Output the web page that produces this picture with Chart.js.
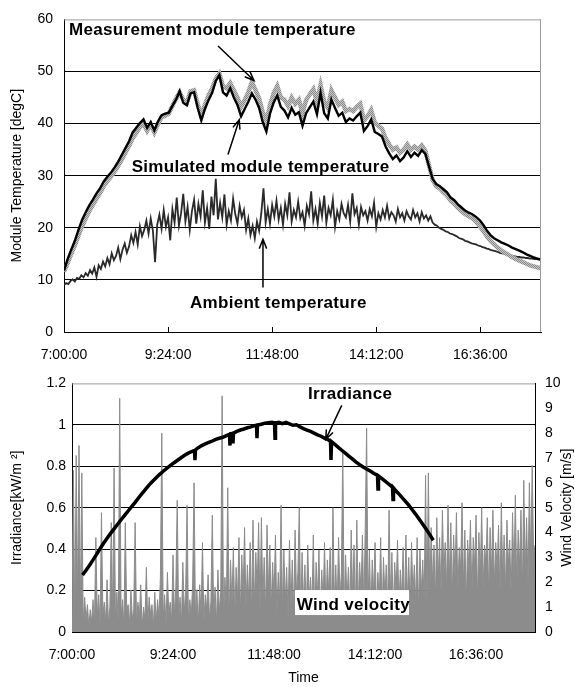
<!DOCTYPE html>
<html>
<head>
<meta charset="utf-8">
<script src="https://cdn.jsdelivr.net/npm/chart.js@4.4.1/dist/chart.umd.min.js"></script>
<style>
  html, body { margin: 0; padding: 0; background: #fff; }
  #wrap { position: relative; width: 575px; height: 687px; }
  canvas { position: absolute; left: 0; }
</style>
</head>
<body>
<div id="wrap">
  <canvas id="tempChart" width="575" height="365" style="top:0"></canvas>
  <canvas id="solarChart" width="575" height="322" style="top:365px"></canvas>
</div>
<script>
// time axis in minutes after midnight
const timeTicks = [420, 564, 708, 852, 996];
const timeTickLabels = ['7:00:00', '9:24:00', '11:48:00', '14:12:00', '16:36:00'];

// module temperatures, every 5 min from 7:00
const tempStart = 420, tempStep = 5;
const simTemp = [
  11.8, 14.0, 15.8, 17.5, 19.6, 21.5, 23.0, 24.3, 25.4, 26.6, 27.6, 28.9,
  29.8, 30.6, 31.6, 32.7, 34.0, 35.3, 36.6, 38.3, 39.2, 40.1, 40.8, 39.2,
  40.3, 38.7, 40.4, 41.6, 41.9, 42.1, 43.4, 44.6, 46.2, 44.0, 43.5, 45.8,
  46.0, 43.0, 40.6, 42.8, 44.5, 45.9, 48.2, 49.3, 46.0, 45.4, 46.8, 45.0,
  43.6, 41.4, 42.8, 44.2, 45.8, 44.6, 43.0, 40.3, 38.5, 41.9, 44.0, 45.4,
  43.2, 42.5, 41.2, 43.0, 41.7, 42.2, 39.6, 42.0, 43.1, 44.2, 41.8, 45.9,
  42.0, 41.0, 44.6, 43.0, 41.5, 42.1, 40.3, 41.0, 40.6, 41.4, 42.1, 38.6,
  39.5, 40.8, 38.4, 38.0, 37.5, 35.6, 34.3, 33.2, 33.9, 32.8, 33.5, 34.7,
  33.6, 34.4, 33.8, 34.9, 34.2, 31.8, 29.4, 28.4, 28.0, 27.4, 26.8, 25.8,
  25.3, 24.5, 23.9, 23.3, 22.9, 22.6, 22.1, 21.5, 20.6, 19.5, 18.6, 18.0,
  17.6, 17.2, 16.9, 16.6, 16.2, 15.9, 15.6, 15.3, 14.9, 14.6, 14.3, 14.1,
  13.9
];
const measTemp = [
  11.6, 13.2, 15.0, 16.6, 18.5, 20.3, 21.8, 23.2, 24.4, 25.6, 26.7, 28.0,
  29.0, 29.8, 30.8, 31.9, 33.1, 34.4, 35.7, 37.2, 38.2, 39.3, 40.0, 38.6,
  39.8, 38.3, 39.9, 41.2, 41.5, 41.9, 43.4, 44.8, 46.0, 44.6, 44.0, 46.2,
  46.4, 43.8, 41.5, 43.6, 45.4, 46.8, 48.6, 49.6, 47.2, 46.8, 47.8, 46.4,
  45.0, 43.2, 44.5, 46.0, 48.0, 46.4, 44.8, 42.2, 40.4, 43.5, 45.8, 47.2,
  45.0, 44.6, 43.4, 45.0, 43.8, 44.6, 42.0, 44.5, 45.6, 46.6, 44.2, 47.4,
  44.2, 43.0, 46.4, 45.0, 43.6, 44.2, 42.4, 42.8, 42.4, 43.2, 43.8, 40.6,
  41.4, 42.6, 40.2, 39.6, 39.0, 37.2, 36.0, 35.0, 35.4, 34.4, 35.0, 36.0,
  35.0, 35.6, 35.0, 35.8, 34.8, 32.0, 29.2, 28.0, 27.5, 26.8, 26.2, 25.2,
  24.6, 23.8, 23.2, 22.6, 22.2, 21.8, 21.2, 20.4, 19.4, 18.4, 17.5, 16.8,
  16.2, 15.7, 15.2, 14.8, 14.4, 14.0, 13.7, 13.4, 13.1, 12.8, 12.6, 12.4,
  12.2
];

// ambient temperature, every 3 min from 7:00
const ambStart = 420, ambStep = 3;
const ambTemp = [
  9.0, 9.4, 9.2, 9.8, 10.1, 9.7, 10.4, 10.2, 10.9, 10.5,
  11.3, 10.8, 11.9, 11.2, 12.4, 10.6, 12.8, 12.1, 13.5, 12.6,
  14.2, 13.0, 15.1, 13.8, 14.6, 16.2, 14.0, 15.8, 17.0, 15.2,
  16.4, 18.6, 17.1, 19.2, 16.8, 20.3, 18.4, 19.6, 21.4, 18.9,
  21.8, 19.4, 13.4, 20.6, 22.5, 19.8, 23.4, 20.2, 22.0, 17.6,
  23.6, 21.0, 25.8, 20.4, 22.8, 26.5, 21.2, 24.0, 19.6, 23.2,
  25.4, 20.8, 24.6, 22.2, 27.2, 21.0, 23.8, 19.8, 26.0, 22.4,
  29.4, 21.6, 24.8, 22.0, 26.4, 20.6, 23.2, 21.4, 25.6, 22.6,
  20.8, 24.2, 22.0, 23.4, 19.6, 21.8, 18.6, 20.4, 18.0, 21.2,
  19.4, 22.8, 27.6, 21.0, 23.6, 20.8, 24.4, 22.2, 25.2, 21.6,
  23.8, 20.6, 24.6, 22.4, 26.8, 21.2, 23.4, 22.0, 25.0, 21.8,
  23.0, 20.4, 24.2, 22.6, 27.0, 21.4, 23.6, 20.8, 24.8, 22.2,
  26.2, 21.0, 23.8, 22.4, 25.4, 20.2, 23.2, 21.6, 24.6, 22.8,
  22.0, 24.4, 21.2, 26.6, 22.6, 23.8, 20.6, 24.0, 22.4, 23.2,
  21.4, 23.6, 22.2, 24.8, 20.2, 22.8, 21.6, 23.4, 22.0, 24.2,
  21.8, 23.0, 22.4, 21.2, 23.6, 22.0, 22.8, 21.4, 23.2, 22.2,
  21.6, 23.4, 22.0, 22.8, 21.2, 23.0, 21.8, 22.4, 21.4, 22.2,
  21.0, 20.6, 20.4, 20.0, 19.8, 19.6, 19.3, 19.2, 18.9, 18.8,
  18.6, 18.4, 18.1, 17.9, 17.8, 17.5, 17.4, 17.2, 17.0, 16.9,
  16.8, 16.6, 16.5, 16.3, 16.2, 16.0, 15.9, 15.7, 15.6, 15.5,
  15.4, 15.2, 15.1, 15.0, 14.9, 14.8, 14.7, 14.6, 14.5, 14.4,
  14.4, 14.3, 14.3, 14.2, 14.2, 14.1, 14.1, 14.0, 14.0, 13.9,
  13.9
];

// irradiance [kW/m2]; sample times in minutes (short dips are sampled closely)
const irrTime = [
  435, 440, 445, 450, 455, 460, 465, 470, 475, 480, 485, 490, 495, 500, 505,
  510, 515, 520, 525, 530, 535, 540, 545, 550, 555, 560, 565, 570, 575, 580,
  585, 590, 594.6, 595.3, 596, 600, 605, 610, 615, 620, 625, 630, 635, 640,
  644.5, 645.2, 645.9, 649, 649.5, 650.2, 655, 660, 665, 670, 675, 680,
  683, 683.7, 684.4, 690, 695, 700, 705, 708.7, 709.4, 710.1, 715, 720, 725,
  730, 735, 740, 745, 750, 755, 760, 765, 770, 775, 780, 785, 788.5, 789.2,
  789.9, 795, 800, 805, 810, 815, 820, 825, 830, 835, 840, 845, 850,
  855.5, 856.2, 856.9, 860, 865, 870, 875, 876.9, 877.6, 878.3, 880, 885,
  890, 895, 900, 905, 910, 915, 920, 925, 930, 935
];
const irradiance = [
  0.275, 0.298, 0.322, 0.348, 0.375, 0.402, 0.428, 0.452, 0.476, 0.498, 0.52, 0.542, 0.563, 0.584, 0.605,
  0.626, 0.648, 0.669, 0.69, 0.71, 0.728, 0.745, 0.761, 0.776, 0.79, 0.803, 0.816, 0.828, 0.84, 0.852,
  0.862, 0.87, 0.877, 0.83, 0.879, 0.89, 0.9, 0.908, 0.915, 0.922, 0.93, 0.935, 0.94, 0.948,
  0.954, 0.90, 0.955, 0.959, 0.91, 0.96, 0.968, 0.975, 0.98, 0.986, 0.99, 0.996,
  0.998, 0.935, 0.999, 1.003, 1.008, 1.01, 1.012, 1.009, 0.935, 1.009, 1.012, 1.006, 1.012,
  1.005, 0.998, 1.0, 0.99, 0.982, 0.975, 0.968, 0.96, 0.952, 0.945, 0.936, 0.928, 0.921, 0.83,
  0.919, 0.905, 0.89, 0.876, 0.862, 0.848, 0.834, 0.82, 0.808, 0.797, 0.787, 0.777, 0.766,
  0.755, 0.69, 0.753, 0.745, 0.732, 0.718, 0.704, 0.699, 0.64, 0.695, 0.688, 0.67,
  0.651, 0.632, 0.612, 0.59, 0.568, 0.544, 0.52, 0.496, 0.47, 0.443
];

// wind velocity [m/s], every 2 min from 7:00
const windStart = 420, windStep = 2;
const windVel = [
  0.6, 6.5, 0.4, 7.1, 1.2, 7.5, 0.8, 6.4, 0.3, 1.4, 0.5, 1.1, 0.2, 0.9, 0.4,
  1.3, 0.3, 3.8, 0.6, 1.5, 0.2, 4.8, 0.7, 1.2, 0.4, 2.1, 0.3, 1.0, 4.4, 0.5,
  6.6, 0.4, 1.6, 0.3, 9.4, 0.6, 1.3, 0.2, 4.4, 0.8, 1.1, 0.3, 1.7, 0.5, 0.9,
  4.4, 0.3, 1.2, 0.6, 1.9, 0.2, 1.0, 0.5, 2.6, 0.3, 1.4, 0.7, 1.1, 0.2, 1.6,
  0.4, 1.3, 0.6, 2.2, 8.0, 0.5, 1.5, 0.3, 2.4, 0.7, 1.2, 0.4, 3.1, 0.6, 1.8,
  5.3, 0.5, 1.4, 0.3, 2.8, 0.8, 1.6, 5.1, 0.4, 1.3, 0.6, 2.0, 6.0, 0.5, 1.7,
  0.3, 1.9, 0.7, 3.6, 0.4, 1.5, 0.9, 2.3, 0.5, 1.2, 4.7, 0.6, 1.8, 0.3, 2.5,
  0.8, 1.6, 9.5, 0.5, 2.2, 0.9, 5.8, 0.4, 2.9, 1.1, 3.4, 0.6, 2.6, 1.3, 3.8,
  0.7, 3.1, 1.5, 4.2, 0.9, 2.7, 1.2, 3.6, 0.6, 4.5, 1.0, 3.2, 1.7, 4.4, 0.8,
  4.6, 1.3, 3.0, 0.7, 4.3, 1.6, 3.5, 0.9, 2.8, 1.4, 3.9, 0.6, 2.4, 1.1, 5.1,
  0.8, 3.3, 1.2, 2.6, 0.5, 3.7, 1.0, 2.9, 0.7, 4.1, 1.5, 2.4, 5.0, 0.6, 3.2,
  1.1, 2.7, 0.6, 3.5, 1.3, 2.2, 0.9, 3.9, 0.5, 2.8, 1.4, 3.3, 0.7, 2.5, 1.2,
  3.6, 0.8, 2.9, 1.5, 3.4, 0.6, 5.0, 1.1, 2.7, 0.9, 3.8, 1.3, 2.4, 7.3, 0.7,
  3.1, 1.2, 2.6, 0.8, 4.1, 1.4, 3.5, 0.6, 4.5, 1.0, 2.8, 1.6, 3.9, 0.9, 4.2,
  8.2, 1.1, 3.3, 0.7, 2.9, 1.5, 3.6, 0.8, 2.4, 1.2, 3.8, 0.6, 3.0, 1.4, 2.7,
  0.9, 4.9, 1.3, 3.2, 0.7, 2.8, 1.6, 3.7, 1.0, 2.5, 1.4, 3.4, 0.8, 3.9, 1.2,
  3.0, 0.9, 3.6, 1.5, 2.7, 1.1, 3.8, 0.8, 3.3, 1.6, 2.9, 1.2, 6.3, 0.9, 6.4,
  1.5, 4.2, 1.9, 3.5, 1.2, 4.6, 2.1, 3.8, 1.4, 4.9, 2.3, 3.6, 1.7, 5.1, 2.0,
  4.4, 1.3, 3.9, 2.2, 4.8, 1.6, 3.4, 2.5, 5.2, 1.8, 4.1, 1.1, 3.7, 2.4, 4.5,
  1.5, 3.8, 2.6, 4.7, 1.2, 4.0, 2.2, 5.0, 1.7, 3.5, 2.8, 4.6, 1.4, 4.2, 2.3,
  4.9, 1.8, 3.6, 2.5, 4.3, 1.3, 5.2, 2.1, 3.9, 1.6, 4.5, 2.7, 3.7, 1.4, 4.8,
  2.2, 5.5, 1.7, 4.1, 2.6, 4.9, 1.5, 6.1, 2.4, 4.6, 1.9, 6.0, 2.8, 6.7, 3.1,
  3.5
];

// annotation text and arrows, in data units of each chart
const topNotes = [
  { text: 'Measurement module temperature', x: 427, y: 57.0 },
  { text: 'Simulated module temperature', x: 513.6, y: 30.66 },
  { text: 'Ambient temperature', x: 594.3, y: 4.54 }
];
const topArrows = [
  [633.1, 54.9, 682.9, 48.27],
  [646.9, 34.07, 662.5, 40.75],
  [695.3, 8.52, 695.3, 17.79]
];
const botNotes = [
  { text: 'Irradiance', x: 756.4, y: 1.126 },
  { text: 'Wind velocity', x: 740.3, y: 0.106, box: [737.9, 900.4, 0.2024, 0.0819] }
];
const botArrows = [
  [804.5, 1.094, 781.7, 0.930]
];

function toXY(vals, t0, dt) {
  return vals.map((v, i) => ({ x: t0 + i * dt, y: v }));
}

function drawArrow(ctx, x1, y1, x2, y2) {
  const a = Math.atan2(y2 - y1, x2 - x1), h = 10, w = 0.38;
  ctx.beginPath();
  ctx.moveTo(x1, y1);
  ctx.lineTo(x2, y2);
  ctx.moveTo(x2 - h * Math.cos(a - w), y2 - h * Math.sin(a - w));
  ctx.lineTo(x2, y2);
  ctx.lineTo(x2 - h * Math.cos(a + w), y2 - h * Math.sin(a + w));
  ctx.stroke();
}

function decorPlugin(notes, arrows, yId, rightTitle) {
  return {
    id: 'decor',
    afterDraw(chart) {
      const ctx = chart.ctx, a = chart.chartArea;
      const sx = chart.scales.x, sy = chart.scales[yId];
      ctx.save();
      // grey frame on top (and right for the top chart)
      ctx.strokeStyle = '#999';
      ctx.lineWidth = 1;
      ctx.beginPath();
      ctx.moveTo(a.left, a.top + 0.5);
      ctx.lineTo(a.right, a.top + 0.5);
      if (!rightTitle) {
        ctx.moveTo(a.right - 0.5, a.top);
        ctx.lineTo(a.right - 0.5, a.bottom);
      }
      ctx.stroke();
      // small inside tick marks on the time axis of the top chart
      if (!rightTitle) {
        ctx.strokeStyle = '#000';
        ctx.beginPath();
        timeTicks.slice(1).forEach(t => {
          const px = Math.round(sx.getPixelForValue(t)) + 0.5;
          ctx.moveTo(px, a.bottom);
          ctx.lineTo(px, a.bottom - 5);
        });
        ctx.stroke();
      }
      ctx.font = 'bold 17px "Liberation Sans", Arial, sans-serif';
      ctx.letterSpacing = '0.3px';
      ctx.textAlign = 'left';
      ctx.textBaseline = 'alphabetic';
      notes.forEach(n => {
        if (n.box) {
          const x1 = sx.getPixelForValue(n.box[0]), x2 = sx.getPixelForValue(n.box[1]);
          const y1 = sy.getPixelForValue(n.box[2]), y2 = sy.getPixelForValue(n.box[3]);
          ctx.fillStyle = '#fff';
          ctx.fillRect(x1, y1, x2 - x1, y2 - y1);
        }
        ctx.fillStyle = '#000';
        ctx.fillText(n.text, sx.getPixelForValue(n.x), sy.getPixelForValue(n.y));
      });
      ctx.letterSpacing = '0px';
      ctx.strokeStyle = '#000';
      ctx.lineWidth = 1.5;
      arrows.forEach(r => drawArrow(ctx,
        sx.getPixelForValue(r[0]), sy.getPixelForValue(r[1]),
        sx.getPixelForValue(r[2]), sy.getPixelForValue(r[3])));
      if (rightTitle) {
        ctx.font = '14px "Liberation Sans", Arial, sans-serif';
        ctx.textAlign = 'center';
        ctx.textBaseline = 'middle';
        ctx.translate(567, (a.top + a.bottom) / 2);
        ctx.rotate(-Math.PI / 2);
        ctx.fillText(rightTitle, 0, 0);
      }
      ctx.restore();
    }
  };
}

Chart.defaults.font.family = '"Liberation Sans", Arial, sans-serif';
Chart.defaults.font.size = 14;
Chart.defaults.color = '#000';

function timeAxis(height, padding) {
  return {
    type: 'linear', min: 420, max: 1080,
    afterBuildTicks: s => { s.ticks = timeTicks.map(v => ({ value: v })); },
    afterFit: s => { s.height = height; },
    grid: { display: false, drawTicks: false },
    border: { color: '#000' },
    ticks: {
      padding: padding, maxRotation: 0, autoSkip: false,
      callback: v => timeTickLabels[timeTicks.indexOf(v)]
    }
  };
}

// stippled grey for the measured module temperature
const pc = document.createElement('canvas');
pc.width = 2; pc.height = 2;
const pctx = pc.getContext('2d');
pctx.fillStyle = '#c6c6c6'; pctx.fillRect(0, 0, 2, 2);
pctx.fillStyle = '#8a8a8a'; pctx.fillRect(0, 0, 1, 1); pctx.fillRect(1, 1, 1, 1);
const stipple = pctx.createPattern(pc, 'repeat');

new Chart(document.getElementById('tempChart'), {
  type: 'line',
  data: {
    datasets: [
      { label: 'Simulated module temperature', data: toXY(simTemp, tempStart, tempStep),
        borderColor: '#000', borderWidth: 2.4 },
      { label: 'Measurement module temperature', data: toXY(measTemp, tempStart, tempStep),
        borderColor: stipple, borderWidth: 4.5 },
      { label: 'Ambient temperature', data: toXY(ambTemp, ambStart, ambStep),
        borderColor: '#2a2a2a', borderWidth: 1.8 }
    ]
  },
  options: {
    responsive: false,
    animation: false,
    layout: { padding: { top: 15, right: 34, left: 0, bottom: 0 } },
    elements: { point: { radius: 0 }, line: { tension: 0 } },
    plugins: { legend: { display: false }, tooltip: { enabled: false } },
    scales: {
      x: timeAxis(33, 15),
      y: {
        min: 0, max: 60,
        afterFit: s => { s.width = 64; },
        ticks: { stepSize: 10, padding: 11 },
        grid: { drawTicks: false,
          color: c => (c.tick.value > 0 && c.tick.value < 60) ? '#000' : 'rgba(0,0,0,0)' },
        border: { color: '#000' },
        title: { display: true, text: 'Module Temperature [degC]', padding: { top: 9, bottom: 0 } }
      }
    }
  },
  plugins: [decorPlugin(topNotes, topArrows, 'y', null)]
});

new Chart(document.getElementById('solarChart'), {
  type: 'line',
  data: {
    datasets: [
      { label: 'Irradiance', data: irrTime.map((t, i) => ({ x: t, y: irradiance[i] })), yAxisID: 'y',
        borderColor: '#000', borderWidth: 3.5 },
      { label: 'Wind velocity', data: toXY(windVel, windStart, windStep), yAxisID: 'y1',
        borderColor: '#8c8c8c', backgroundColor: '#8c8c8c', borderWidth: 1, fill: 'origin' }
    ]
  },
  options: {
    responsive: false,
    animation: false,
    layout: { padding: { top: 18, right: 0, left: 0, bottom: 0 } },
    elements: { point: { radius: 0 }, line: { tension: 0 } },
    plugins: { legend: { display: false }, tooltip: { enabled: false } },
    scales: {
      x: Object.assign(timeAxis(55, 15), {
        title: { display: true, text: 'Time', padding: { top: 0, bottom: 0 } }
      }),
      y: {
        position: 'left', min: 0, max: 1.2,
        afterFit: s => { s.width = 72; },
        ticks: { stepSize: 0.2, padding: 6, callback: v => String(Math.round(v * 10) / 10) },
        grid: { drawTicks: false,
          color: c => (c.tick.value > 0.01 && c.tick.value < 1.19) ? '#000' : 'rgba(0,0,0,0)' },
        border: { color: '#000' },
        title: { display: true, text: 'Irradiance[kW/m ²]', padding: { top: 9, bottom: 0 } }
      },
      y1: {
        position: 'right', min: 0, max: 10,
        afterFit: s => { s.width = 40; },
        ticks: { stepSize: 1, padding: 10 },
        grid: { display: false, drawTicks: false },
        border: { color: '#000' }
      }
    }
  },
  plugins: [decorPlugin(botNotes, botArrows, 'y', 'Wind Velocity [m/s]')]
});
</script>
</body>
</html>
